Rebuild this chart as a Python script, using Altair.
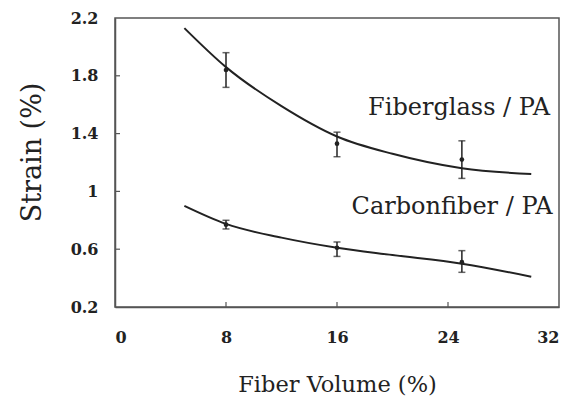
import altair as alt
import pandas as pd

# Fitted curves
fit_x = [5, 8, 12, 16, 20, 25, 30]
glass_fit = [2.13, 1.86, 1.59, 1.38, 1.26, 1.16, 1.12]
carbon_fit = [0.90, 0.775, 0.68, 0.61, 0.56, 0.50, 0.41]

# Measured points with error bars
pt_x = [8, 16, 25]
glass_mean = [1.84, 1.33, 1.22]
glass_lo = [1.72, 1.24, 1.09]
glass_hi = [1.96, 1.41, 1.35]
carbon_mean = [0.77, 0.61, 0.51]
carbon_lo = [0.74, 0.55, 0.44]
carbon_hi = [0.80, 0.65, 0.59]

# Annotations
label_text = ["Fiberglass / PA", "Carbonfiber / PA"]
label_x = [24.8, 24.3]
label_y = [1.58, 0.89]

x_ticks = [0, 8, 16, 24, 32]
y_ticks = [0.2, 0.6, 1.0, 1.4, 1.8, 2.2]

W, H = 444, 289
FONT = "DejaVu Serif"
INK = "#222222"

fit = pd.DataFrame({
    "x": fit_x * 2,
    "y": glass_fit + carbon_fit,
    "s": ["glass"] * len(fit_x) + ["carbon"] * len(fit_x),
})
pts = pd.DataFrame({
    "x": pt_x * 2,
    "y": glass_mean + carbon_mean,
    "lo": glass_lo + carbon_lo,
    "hi": glass_hi + carbon_hi,
})
labels = pd.DataFrame({"t": label_text, "x": label_x, "y": label_y})

xs = alt.Scale(domain=[0, 32], nice=False, zero=False)
ys = alt.Scale(domain=[0.2, 2.2], nice=False, zero=False)

x_axis = alt.Axis(values=x_ticks, ticks=False, grid=False, labelPadding=22,
                  labelFont=FONT, labelFontWeight="bold", labelFontSize=16,
                  labelColor=INK, domainColor="#555555", domainWidth=1.5,
                  title="Fiber Volume (%)", titleFont=FONT, titleFontSize=22.5,
                  titleFontWeight="normal", titleColor=INK,
                  titleY=77, titleBaseline="middle")
y_axis = alt.Axis(values=y_ticks, ticks=False, grid=False, labelPadding=17,
                  labelFont=FONT, labelFontWeight="bold", labelFontSize=16,
                  labelColor=INK, domainColor="#555555", domainWidth=1.5,
                  labelExpr="datum.value == 1 ? '1' : format(datum.value, '.1f')",
                  title="Strain (%)", titleFont=FONT, titleFontSize=27,
                  titleFontWeight="normal", titleColor=INK,
                  titleX=-83, titleY=134, titleBaseline="middle", titleAngle=-90)

lines = alt.Chart(fit).mark_line(color=INK, strokeWidth=2, interpolate="monotone").encode(
    x=alt.X("x:Q", scale=xs, axis=x_axis),
    y=alt.Y("y:Q", scale=ys, axis=y_axis),
    detail="s:N",
)
bars = alt.Chart(pts).mark_rule(color=INK, strokeWidth=1.5).encode(
    x=alt.X("x:Q", scale=xs), y=alt.Y("lo:Q", scale=ys), y2="hi:Q")
cap_lo = alt.Chart(pts).mark_tick(color=INK, thickness=1.5, size=7, orient="horizontal").encode(
    x=alt.X("x:Q", scale=xs), y=alt.Y("lo:Q", scale=ys))
cap_hi = alt.Chart(pts).mark_tick(color=INK, thickness=1.5, size=7, orient="horizontal").encode(
    x=alt.X("x:Q", scale=xs), y=alt.Y("hi:Q", scale=ys))
dots = alt.Chart(pts).mark_point(filled=True, color=INK, size=22, opacity=1).encode(
    x=alt.X("x:Q", scale=xs), y=alt.Y("y:Q", scale=ys))

xt = pd.DataFrame({"v": x_ticks[1:-1]})
yt = pd.DataFrame({"v": y_ticks[1:-1]})
xtick = alt.Chart(xt).mark_rule(color="#555555", strokeWidth=1.2).encode(
    x=alt.X("v:Q", scale=xs), y=alt.value(H), y2=alt.value(H - 5))
ytick = alt.Chart(yt).mark_rule(color="#555555", strokeWidth=1.2).encode(
    y=alt.Y("v:Q", scale=ys), x=alt.value(0), x2=alt.value(5))

text = alt.Chart(labels).mark_text(font=FONT, fontSize=24, color=INK, align="center",
                                   baseline="middle").encode(
    x=alt.X("x:Q", scale=xs), y=alt.Y("y:Q", scale=ys), text="t:N")

chart = alt.layer(lines, bars, cap_lo, cap_hi, dots, xtick, ytick, text).properties(
    width=W, height=H,
    autosize=alt.AutoSizeParams(type="none"),
    padding={"left": 107, "top": 10, "right": 1, "bottom": 93},
    background="white",
).configure_view(stroke="#555555", strokeWidth=1.5)

chart.save("out.html", embed_options={"renderer": "svg", "actions": False})
